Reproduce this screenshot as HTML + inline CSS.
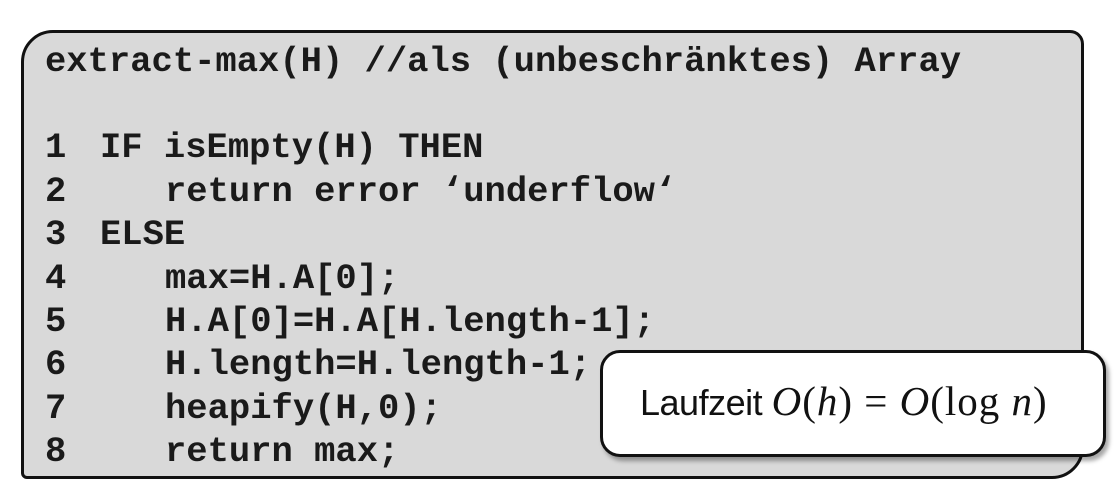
<!DOCTYPE html>
<html><head><meta charset="utf-8"><style>
body{margin:0;width:1120px;height:489px;background:#fff;position:relative;overflow:hidden}
#box{position:absolute;left:21px;top:30px;width:1057px;height:443px;background:#d9d9d9;border:3px solid #111;border-radius:32px 14px 32px 6px;}
.l,.n{position:absolute;font:bold 35.5px "Liberation Mono",monospace;color:#1a1a1a;white-space:pre;line-height:1}
.n{left:45px}
.c{left:100px}.c2{left:165px}
#call{position:absolute;left:600px;top:350px;width:500px;height:101px;background:#fff;border:3px solid #111;border-radius:20px;box-shadow:3px 4px 4px rgba(0,0,0,.35)}
#t{position:absolute;left:37px;top:24px;font:36px "Liberation Sans",sans-serif;color:#111;white-space:nowrap;letter-spacing:-0.5px}
.m{font-family:"Liberation Serif",serif;font-size:41px;letter-spacing:1px}
i{font-family:"Liberation Serif",serif}
</style></head><body>
<div id="box"></div>
<div class="l" style="top:44px;left:45px">extract-max(H) //als (unbeschränktes) Array</div>
<div class="n" style="top:130px">1</div><div class="l c" style="top:130px">IF isEmpty(H) THEN</div>
<div class="n" style="top:174px">2</div><div class="l c2" style="top:174px">return error ‘underflow‘</div>
<div class="n" style="top:217px">3</div><div class="l c" style="top:217px">ELSE</div>
<div class="n" style="top:261px">4</div><div class="l c2" style="top:261px">max=H.A[0];</div>
<div class="n" style="top:304px">5</div><div class="l c2" style="top:304px">H.A[0]=H.A[H.length-1];</div>
<div class="n" style="top:347px">6</div><div class="l c2" style="top:347px">H.length=H.length-1;</div>
<div class="n" style="top:391px">7</div><div class="l c2" style="top:391px">heapify(H,0);</div>
<div class="n" style="top:434px">8</div><div class="l c2" style="top:434px">return max;</div>
<div id="call"><div id="t">Laufzeit <span class="m"><i>O</i>(<i>h</i>)&nbsp;=&nbsp;<i>O</i>(log<i> n</i>)</span></div></div>
</body></html>
